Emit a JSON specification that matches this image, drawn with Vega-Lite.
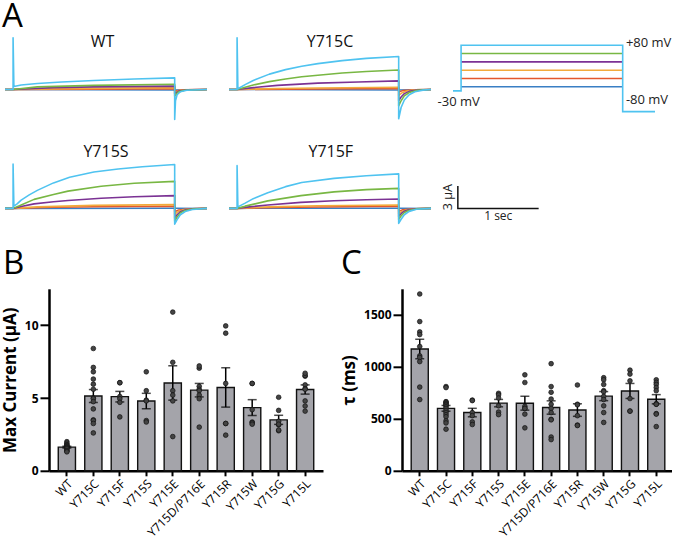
{
"$schema":"https://vega.github.io/schema/vega-lite/v6.json",
"background":"white",
"padding":{"left":1,"top":1,"right":0,"bottom":0},
"bounds":"flush",
"align":"each",
"columns":3,
"spacing":{"row":35.9,"column":22},
"config":{"font":"Open Sans","view":{"stroke":null},"axis":{"labelFont":"Open Sans","titleFont":"Open Sans"},"title":{"font":"Open Sans"},"text":{"font":"Open Sans"}},
"datasets":{
"tr":[
{"p":"WT","v":-20,"k":0,"t":-0.1,"i":0},{"p":"WT","v":-20,"k":1,"t":2,"i":-0.05},{"p":"WT","v":-20,"k":2,"t":2.4,"i":0},
{"p":"WT","v":0,"k":0,"t":-0.1,"i":0},{"p":"WT","v":0,"k":1,"t":0,"i":0},{"p":"WT","v":0,"k":2,"t":1,"i":0.05},{"p":"WT","v":0,"k":3,"t":2,"i":0.1},{"p":"WT","v":0,"k":4,"t":2,"i":-0.2},{"p":"WT","v":0,"k":5,"t":2.1,"i":-0.05},{"p":"WT","v":0,"k":6,"t":2.4,"i":0},
{"p":"WT","v":20,"k":0,"t":-0.1,"i":0},{"p":"WT","v":20,"k":1,"t":0,"i":0},{"p":"WT","v":20,"k":2,"t":1,"i":0.15},{"p":"WT","v":20,"k":3,"t":2,"i":0.25},{"p":"WT","v":20,"k":4,"t":2,"i":-0.4},{"p":"WT","v":20,"k":5,"t":2.05,"i":-0.15},{"p":"WT","v":20,"k":6,"t":2.15,"i":-0.05},{"p":"WT","v":20,"k":7,"t":2.4,"i":0},
{"p":"WT","v":40,"k":0,"t":-0.1,"i":0},{"p":"WT","v":40,"k":1,"t":0,"i":0},{"p":"WT","v":40,"k":2,"t":0.5,"i":0.25},{"p":"WT","v":40,"k":3,"t":1,"i":0.35},{"p":"WT","v":40,"k":4,"t":2,"i":0.45},{"p":"WT","v":40,"k":5,"t":2,"i":-0.6},{"p":"WT","v":40,"k":6,"t":2.05,"i":-0.2},{"p":"WT","v":40,"k":7,"t":2.15,"i":-0.05},{"p":"WT","v":40,"k":8,"t":2.4,"i":0},
{"p":"WT","v":60,"k":0,"t":-0.1,"i":0},{"p":"WT","v":60,"k":1,"t":0,"i":0},{"p":"WT","v":60,"k":2,"t":0.3,"i":0.35},{"p":"WT","v":60,"k":3,"t":1,"i":0.55},{"p":"WT","v":60,"k":4,"t":2,"i":0.7},{"p":"WT","v":60,"k":5,"t":2,"i":-0.9},{"p":"WT","v":60,"k":6,"t":2.04,"i":-0.35},{"p":"WT","v":60,"k":7,"t":2.12,"i":-0.1},{"p":"WT","v":60,"k":8,"t":2.4,"i":0},
{"p":"WT","v":80,"k":0,"t":-0.1,"i":0},{"p":"WT","v":80,"k":1,"t":0,"i":0},{"p":"WT","v":80,"k":2,"t":0,"i":6.9},{"p":"WT","v":80,"k":3,"t":0.01,"i":0.4},{"p":"WT","v":80,"k":4,"t":0.1,"i":0.6},{"p":"WT","v":80,"k":5,"t":0.3,"i":0.8},{"p":"WT","v":80,"k":6,"t":0.6,"i":1.0},{"p":"WT","v":80,"k":7,"t":1,"i":1.2},{"p":"WT","v":80,"k":8,"t":1.5,"i":1.4},{"p":"WT","v":80,"k":9,"t":2,"i":1.55},{"p":"WT","v":80,"k":10,"t":2,"i":-4.0},{"p":"WT","v":80,"k":11,"t":2.01,"i":-1.5},{"p":"WT","v":80,"k":12,"t":2.03,"i":-0.7},{"p":"WT","v":80,"k":13,"t":2.07,"i":-0.3},{"p":"WT","v":80,"k":14,"t":2.15,"i":-0.1},{"p":"WT","v":80,"k":15,"t":2.4,"i":0},
{"p":"C","v":-20,"k":0,"t":-0.1,"i":0},{"p":"C","v":-20,"k":1,"t":2,"i":-0.05},{"p":"C","v":-20,"k":2,"t":2.4,"i":0},
{"p":"C","v":0,"k":0,"t":-0.1,"i":0},{"p":"C","v":0,"k":1,"t":0,"i":0},{"p":"C","v":0,"k":2,"t":1,"i":0.08},{"p":"C","v":0,"k":3,"t":2,"i":0.12},{"p":"C","v":0,"k":4,"t":2,"i":-0.35},{"p":"C","v":0,"k":5,"t":2.05,"i":-0.15},{"p":"C","v":0,"k":6,"t":2.2,"i":-0.03},{"p":"C","v":0,"k":7,"t":2.4,"i":0},
{"p":"C","v":20,"k":0,"t":-0.1,"i":0},{"p":"C","v":20,"k":1,"t":0,"i":0},{"p":"C","v":20,"k":2,"t":0.5,"i":0.12},{"p":"C","v":20,"k":3,"t":1,"i":0.2},{"p":"C","v":20,"k":4,"t":2,"i":0.3},{"p":"C","v":20,"k":5,"t":2,"i":-0.8},{"p":"C","v":20,"k":6,"t":2.04,"i":-0.45},{"p":"C","v":20,"k":7,"t":2.1,"i":-0.2},{"p":"C","v":20,"k":8,"t":2.2,"i":-0.05},{"p":"C","v":20,"k":9,"t":2.4,"i":0},
{"p":"C","v":40,"k":0,"t":-0.1,"i":0},{"p":"C","v":40,"k":1,"t":0,"i":0},{"p":"C","v":40,"k":2,"t":0.2,"i":0.25},{"p":"C","v":40,"k":3,"t":0.5,"i":0.55},{"p":"C","v":40,"k":4,"t":1,"i":0.85},{"p":"C","v":40,"k":5,"t":1.5,"i":1.0},{"p":"C","v":40,"k":6,"t":2,"i":1.15},{"p":"C","v":40,"k":7,"t":2,"i":-1.5},{"p":"C","v":40,"k":8,"t":2.03,"i":-1.0},{"p":"C","v":40,"k":9,"t":2.07,"i":-0.55},{"p":"C","v":40,"k":10,"t":2.13,"i":-0.25},{"p":"C","v":40,"k":11,"t":2.22,"i":-0.08},{"p":"C","v":40,"k":12,"t":2.4,"i":0},
{"p":"C","v":60,"k":0,"t":-0.1,"i":0},{"p":"C","v":60,"k":1,"t":0,"i":0},{"p":"C","v":60,"k":2,"t":0.1,"i":0.3},{"p":"C","v":60,"k":3,"t":0.2,"i":0.6},{"p":"C","v":60,"k":4,"t":0.4,"i":1.05},{"p":"C","v":60,"k":5,"t":0.6,"i":1.4},{"p":"C","v":60,"k":6,"t":0.8,"i":1.7},{"p":"C","v":60,"k":7,"t":1,"i":1.9},{"p":"C","v":60,"k":8,"t":1.3,"i":2.2},{"p":"C","v":60,"k":9,"t":1.6,"i":2.4},{"p":"C","v":60,"k":10,"t":2,"i":2.6},{"p":"C","v":60,"k":11,"t":2,"i":-2.2},{"p":"C","v":60,"k":12,"t":2.03,"i":-1.5},{"p":"C","v":60,"k":13,"t":2.07,"i":-0.85},{"p":"C","v":60,"k":14,"t":2.13,"i":-0.4},{"p":"C","v":60,"k":15,"t":2.22,"i":-0.12},{"p":"C","v":60,"k":16,"t":2.4,"i":0},
{"p":"C","v":80,"k":0,"t":-0.1,"i":0},{"p":"C","v":80,"k":1,"t":0,"i":0},{"p":"C","v":80,"k":2,"t":0,"i":6.9},{"p":"C","v":80,"k":3,"t":0.01,"i":0.1},{"p":"C","v":80,"k":4,"t":0.1,"i":0.65},{"p":"C","v":80,"k":5,"t":0.2,"i":1.2},{"p":"C","v":80,"k":6,"t":0.4,"i":2.05},{"p":"C","v":80,"k":7,"t":0.6,"i":2.65},{"p":"C","v":80,"k":8,"t":0.8,"i":3.1},{"p":"C","v":80,"k":9,"t":1,"i":3.45},{"p":"C","v":80,"k":10,"t":1.3,"i":3.85},{"p":"C","v":80,"k":11,"t":1.6,"i":4.15},{"p":"C","v":80,"k":12,"t":2,"i":4.4},{"p":"C","v":80,"k":13,"t":2,"i":-3.9},{"p":"C","v":80,"k":14,"t":2.03,"i":-2.4},{"p":"C","v":80,"k":15,"t":2.07,"i":-1.4},{"p":"C","v":80,"k":16,"t":2.13,"i":-0.7},{"p":"C","v":80,"k":17,"t":2.2,"i":-0.3},{"p":"C","v":80,"k":18,"t":2.3,"i":-0.08},{"p":"C","v":80,"k":19,"t":2.4,"i":0},
{"p":"S","v":-20,"k":0,"t":-0.1,"i":0},{"p":"S","v":-20,"k":1,"t":2,"i":0.02},{"p":"S","v":-20,"k":2,"t":2.4,"i":0},
{"p":"S","v":0,"k":0,"t":-0.1,"i":0},{"p":"S","v":0,"k":1,"t":0,"i":0},{"p":"S","v":0,"k":2,"t":0.5,"i":0.15},{"p":"S","v":0,"k":3,"t":1,"i":0.22},{"p":"S","v":0,"k":4,"t":2,"i":0.3},{"p":"S","v":0,"k":5,"t":2,"i":-0.45},{"p":"S","v":0,"k":6,"t":2.05,"i":-0.2},{"p":"S","v":0,"k":7,"t":2.2,"i":-0.04},{"p":"S","v":0,"k":8,"t":2.4,"i":0},
{"p":"S","v":20,"k":0,"t":-0.1,"i":0},{"p":"S","v":20,"k":1,"t":0,"i":0},{"p":"S","v":20,"k":2,"t":0.3,"i":0.2},{"p":"S","v":20,"k":3,"t":1,"i":0.4},{"p":"S","v":20,"k":4,"t":2,"i":0.5},{"p":"S","v":20,"k":5,"t":2,"i":-0.8},{"p":"S","v":20,"k":6,"t":2.04,"i":-0.45},{"p":"S","v":20,"k":7,"t":2.1,"i":-0.2},{"p":"S","v":20,"k":8,"t":2.2,"i":-0.05},{"p":"S","v":20,"k":9,"t":2.4,"i":0},
{"p":"S","v":40,"k":0,"t":-0.1,"i":0},{"p":"S","v":40,"k":1,"t":0,"i":0},{"p":"S","v":40,"k":2,"t":0.1,"i":0.25},{"p":"S","v":40,"k":3,"t":0.26,"i":0.6},{"p":"S","v":40,"k":4,"t":0.5,"i":0.88},{"p":"S","v":40,"k":5,"t":0.68,"i":1.05},{"p":"S","v":40,"k":6,"t":1.09,"i":1.35},{"p":"S","v":40,"k":7,"t":1.5,"i":1.55},{"p":"S","v":40,"k":8,"t":2,"i":1.7},{"p":"S","v":40,"k":9,"t":2,"i":-1.3},{"p":"S","v":40,"k":10,"t":2.03,"i":-0.85},{"p":"S","v":40,"k":11,"t":2.07,"i":-0.45},{"p":"S","v":40,"k":12,"t":2.13,"i":-0.2},{"p":"S","v":40,"k":13,"t":2.22,"i":-0.05},{"p":"S","v":40,"k":14,"t":2.4,"i":0},
{"p":"S","v":60,"k":0,"t":-0.1,"i":0},{"p":"S","v":60,"k":1,"t":0,"i":0},{"p":"S","v":60,"k":2,"t":0.1,"i":0.45},{"p":"S","v":60,"k":3,"t":0.26,"i":1.2},{"p":"S","v":60,"k":4,"t":0.5,"i":1.85},{"p":"S","v":60,"k":5,"t":0.68,"i":2.3},{"p":"S","v":60,"k":6,"t":1.09,"i":2.95},{"p":"S","v":60,"k":7,"t":1.5,"i":3.35},{"p":"S","v":60,"k":8,"t":2,"i":3.6},{"p":"S","v":60,"k":9,"t":2,"i":-1.7},{"p":"S","v":60,"k":10,"t":2.03,"i":-1.15},{"p":"S","v":60,"k":11,"t":2.07,"i":-0.6},{"p":"S","v":60,"k":12,"t":2.13,"i":-0.28},{"p":"S","v":60,"k":13,"t":2.22,"i":-0.08},{"p":"S","v":60,"k":14,"t":2.4,"i":0},
{"p":"S","v":80,"k":0,"t":-0.1,"i":0},{"p":"S","v":80,"k":1,"t":0,"i":0},{"p":"S","v":80,"k":2,"t":0,"i":5.9},{"p":"S","v":80,"k":3,"t":0.01,"i":0.3},{"p":"S","v":80,"k":4,"t":0.05,"i":0.6},{"p":"S","v":80,"k":5,"t":0.1,"i":1.1},{"p":"S","v":80,"k":6,"t":0.2,"i":1.8},{"p":"S","v":80,"k":7,"t":0.3,"i":2.4},{"p":"S","v":80,"k":8,"t":0.5,"i":3.4},{"p":"S","v":80,"k":9,"t":0.7,"i":4.15},{"p":"S","v":80,"k":10,"t":1,"i":4.85},{"p":"S","v":80,"k":11,"t":1.3,"i":5.25},{"p":"S","v":80,"k":12,"t":1.6,"i":5.55},{"p":"S","v":80,"k":13,"t":2,"i":5.85},{"p":"S","v":80,"k":14,"t":2,"i":-2.1},{"p":"S","v":80,"k":15,"t":2.03,"i":-1.5},{"p":"S","v":80,"k":16,"t":2.07,"i":-0.85},{"p":"S","v":80,"k":17,"t":2.13,"i":-0.42},{"p":"S","v":80,"k":18,"t":2.22,"i":-0.14},{"p":"S","v":80,"k":19,"t":2.4,"i":0},
{"p":"F","v":-20,"k":0,"t":-0.1,"i":0},{"p":"F","v":-20,"k":1,"t":2,"i":0.02},{"p":"F","v":-20,"k":2,"t":2.4,"i":0},
{"p":"F","v":0,"k":0,"t":-0.1,"i":0},{"p":"F","v":0,"k":1,"t":0,"i":0},{"p":"F","v":0,"k":2,"t":0.5,"i":0.12},{"p":"F","v":0,"k":3,"t":1,"i":0.2},{"p":"F","v":0,"k":4,"t":2,"i":0.27},{"p":"F","v":0,"k":5,"t":2,"i":-0.4},{"p":"F","v":0,"k":6,"t":2.05,"i":-0.18},{"p":"F","v":0,"k":7,"t":2.2,"i":-0.04},{"p":"F","v":0,"k":8,"t":2.4,"i":0},
{"p":"F","v":20,"k":0,"t":-0.1,"i":0},{"p":"F","v":20,"k":1,"t":0,"i":0},{"p":"F","v":20,"k":2,"t":0.4,"i":0.2},{"p":"F","v":20,"k":3,"t":1,"i":0.35},{"p":"F","v":20,"k":4,"t":2,"i":0.45},{"p":"F","v":20,"k":5,"t":2,"i":-0.7},{"p":"F","v":20,"k":6,"t":2.04,"i":-0.4},{"p":"F","v":20,"k":7,"t":2.1,"i":-0.18},{"p":"F","v":20,"k":8,"t":2.2,"i":-0.05},{"p":"F","v":20,"k":9,"t":2.4,"i":0},
{"p":"F","v":40,"k":0,"t":-0.1,"i":0},{"p":"F","v":40,"k":1,"t":0,"i":0},{"p":"F","v":40,"k":2,"t":0.15,"i":0.2},{"p":"F","v":40,"k":3,"t":0.38,"i":0.45},{"p":"F","v":40,"k":4,"t":0.79,"i":0.8},{"p":"F","v":40,"k":5,"t":1.2,"i":1.03},{"p":"F","v":40,"k":6,"t":1.6,"i":1.15},{"p":"F","v":40,"k":7,"t":2,"i":1.25},{"p":"F","v":40,"k":8,"t":2,"i":-1.1},{"p":"F","v":40,"k":9,"t":2.03,"i":-0.7},{"p":"F","v":40,"k":10,"t":2.07,"i":-0.38},{"p":"F","v":40,"k":11,"t":2.13,"i":-0.16},{"p":"F","v":40,"k":12,"t":2.22,"i":-0.04},{"p":"F","v":40,"k":13,"t":2.4,"i":0},
{"p":"F","v":60,"k":0,"t":-0.1,"i":0},{"p":"F","v":60,"k":1,"t":0,"i":0},{"p":"F","v":60,"k":2,"t":0.1,"i":0.3},{"p":"F","v":60,"k":3,"t":0.38,"i":1.0},{"p":"F","v":60,"k":4,"t":0.79,"i":1.7},{"p":"F","v":60,"k":5,"t":1.2,"i":2.2},{"p":"F","v":60,"k":6,"t":1.6,"i":2.5},{"p":"F","v":60,"k":7,"t":2,"i":2.67},{"p":"F","v":60,"k":8,"t":2,"i":-1.5},{"p":"F","v":60,"k":9,"t":2.03,"i":-1.0},{"p":"F","v":60,"k":10,"t":2.07,"i":-0.55},{"p":"F","v":60,"k":11,"t":2.13,"i":-0.25},{"p":"F","v":60,"k":12,"t":2.22,"i":-0.07},{"p":"F","v":60,"k":13,"t":2.4,"i":0},
{"p":"F","v":80,"k":0,"t":-0.1,"i":0},{"p":"F","v":80,"k":1,"t":0,"i":0},{"p":"F","v":80,"k":2,"t":0,"i":5.7},{"p":"F","v":80,"k":3,"t":0.01,"i":0.2},{"p":"F","v":80,"k":4,"t":0.1,"i":0.7},{"p":"F","v":80,"k":5,"t":0.2,"i":1.3},{"p":"F","v":80,"k":6,"t":0.38,"i":2.1},{"p":"F","v":80,"k":7,"t":0.6,"i":2.9},{"p":"F","v":80,"k":8,"t":0.8,"i":3.45},{"p":"F","v":80,"k":9,"t":1.2,"i":4.0},{"p":"F","v":80,"k":10,"t":1.6,"i":4.35},{"p":"F","v":80,"k":11,"t":2,"i":4.6},{"p":"F","v":80,"k":12,"t":2,"i":-2.0},{"p":"F","v":80,"k":13,"t":2.03,"i":-1.45},{"p":"F","v":80,"k":14,"t":2.07,"i":-0.85},{"p":"F","v":80,"k":15,"t":2.13,"i":-0.4},{"p":"F","v":80,"k":16,"t":2.22,"i":-0.12},{"p":"F","v":80,"k":17,"t":2.4,"i":0}
],
"pr":[
{"v":-20,"k":0,"t":0,"mv":-20},{"v":-20,"k":1,"t":2,"mv":-20},
{"v":0,"k":0,"t":0,"mv":0},{"v":0,"k":1,"t":2,"mv":0},
{"v":20,"k":0,"t":0,"mv":20},{"v":20,"k":1,"t":2,"mv":20},
{"v":40,"k":0,"t":0,"mv":40},{"v":40,"k":1,"t":2,"mv":40},
{"v":60,"k":0,"t":0,"mv":60},{"v":60,"k":1,"t":2,"mv":60},
{"v":80,"k":0,"t":-0.1,"mv":-30},{"v":80,"k":1,"t":0,"mv":-30},{"v":80,"k":2,"t":0,"mv":80},{"v":80,"k":3,"t":2,"mv":80},{"v":80,"k":4,"t":2,"mv":-80},{"v":80,"k":5,"t":2.4,"mv":-80}
],
"sb":[{"k":0,"t":0,"i":3},{"k":1,"t":0,"i":0},{"k":2,"t":1,"i":0}],
"bd":[
{"g":"WT","v":2.0},{"g":"WT","v":1.9},{"g":"WT","v":1.8},{"g":"WT","v":1.75},{"g":"WT","v":1.7},{"g":"WT","v":1.65},{"g":"WT","v":1.6},{"g":"WT","v":1.55},{"g":"WT","v":1.5},{"g":"WT","v":1.4},{"g":"WT","v":1.35},{"g":"WT","v":1.3},
{"g":"Y715C","v":8.4},{"g":"Y715C","v":7.1},{"g":"Y715C","v":6.8},{"g":"Y715C","v":6.3},{"g":"Y715C","v":5.95},{"g":"Y715C","v":5.6},{"g":"Y715C","v":5.0},{"g":"Y715C","v":4.95},{"g":"Y715C","v":4.75},{"g":"Y715C","v":4.25},{"g":"Y715C","v":3.5},{"g":"Y715C","v":3.45},{"g":"Y715C","v":3.25},{"g":"Y715C","v":2.6},
{"g":"Y715F","v":6.05},{"g":"Y715F","v":6.05},{"g":"Y715F","v":5.1},{"g":"Y715F","v":4.95},{"g":"Y715F","v":4.7},{"g":"Y715F","v":3.7},
{"g":"Y715S","v":6.8},{"g":"Y715S","v":5.5},{"g":"Y715S","v":4.85},{"g":"Y715S","v":4.8},{"g":"Y715S","v":3.45},{"g":"Y715S","v":3.35},
{"g":"Y715E","v":10.9},{"g":"Y715E","v":7.45},{"g":"Y715E","v":5.5},{"g":"Y715E","v":5.2},{"g":"Y715E","v":4.8},{"g":"Y715E","v":2.35},
{"g":"Y715D/P716E","v":7.05},{"g":"Y715D/P716E","v":7.2},{"g":"Y715D/P716E","v":5.8},{"g":"Y715D/P716E","v":5.6},{"g":"Y715D/P716E","v":5.5},{"g":"Y715D/P716E","v":5.2},{"g":"Y715D/P716E","v":4.95},{"g":"Y715D/P716E","v":3.0},
{"g":"Y715R","v":9.95},{"g":"Y715R","v":9.45},{"g":"Y715R","v":6.0},{"g":"Y715R","v":3.25},{"g":"Y715R","v":3.25},{"g":"Y715R","v":2.45},
{"g":"Y715W","v":6.0},{"g":"Y715W","v":6.0},{"g":"Y715W","v":4.2},{"g":"Y715W","v":3.35},{"g":"Y715W","v":3.3},{"g":"Y715W","v":3.2},
{"g":"Y715G","v":5.05},{"g":"Y715G","v":4.15},{"g":"Y715G","v":3.4},{"g":"Y715G","v":3.15},{"g":"Y715G","v":3.2},{"g":"Y715G","v":2.75},{"g":"Y715G","v":2.8},
{"g":"Y715L","v":6.5},{"g":"Y715L","v":6.55},{"g":"Y715L","v":6.7},{"g":"Y715L","v":5.9},{"g":"Y715L","v":5.65},{"g":"Y715L","v":5.6},{"g":"Y715L","v":4.8},{"g":"Y715L","v":4.45},{"g":"Y715L","v":4.1}
],
"cd":[
{"g":"WT","v":1700},{"g":"WT","v":1435},{"g":"WT","v":1335},{"g":"WT","v":1310},{"g":"WT","v":1195},{"g":"WT","v":1105},{"g":"WT","v":1090},{"g":"WT","v":1050},{"g":"WT","v":805},{"g":"WT","v":685},
{"g":"Y715C","v":810},{"g":"Y715C","v":800},{"g":"Y715C","v":665},{"g":"Y715C","v":660},{"g":"Y715C","v":650},{"g":"Y715C","v":640},{"g":"Y715C","v":630},{"g":"Y715C","v":615},{"g":"Y715C","v":600},{"g":"Y715C","v":580},{"g":"Y715C","v":560},{"g":"Y715C","v":540},{"g":"Y715C","v":520},{"g":"Y715C","v":480},{"g":"Y715C","v":460},{"g":"Y715C","v":400},
{"g":"Y715F","v":680},{"g":"Y715F","v":675},{"g":"Y715F","v":560},{"g":"Y715F","v":530},{"g":"Y715F","v":470},{"g":"Y715F","v":445},
{"g":"Y715S","v":745},{"g":"Y715S","v":730},{"g":"Y715S","v":700},{"g":"Y715S","v":625},{"g":"Y715S","v":565},{"g":"Y715S","v":540},
{"g":"Y715E","v":923},{"g":"Y715E","v":849},{"g":"Y715E","v":620},{"g":"Y715E","v":600},{"g":"Y715E","v":600},{"g":"Y715E","v":545},{"g":"Y715E","v":413},
{"g":"Y715D/P716E","v":1030},{"g":"Y715D/P716E","v":810},{"g":"Y715D/P716E","v":755},{"g":"Y715D/P716E","v":690},{"g":"Y715D/P716E","v":640},{"g":"Y715D/P716E","v":600},{"g":"Y715D/P716E","v":560},{"g":"Y715D/P716E","v":495},{"g":"Y715D/P716E","v":490},{"g":"Y715D/P716E","v":325},{"g":"Y715D/P716E","v":300},
{"g":"Y715R","v":825},{"g":"Y715R","v":640},{"g":"Y715R","v":635},{"g":"Y715R","v":530},{"g":"Y715R","v":440},{"g":"Y715R","v":435},
{"g":"Y715W","v":895},{"g":"Y715W","v":875},{"g":"Y715W","v":830},{"g":"Y715W","v":770},{"g":"Y715W","v":760},{"g":"Y715W","v":715},{"g":"Y715W","v":685},{"g":"Y715W","v":625},{"g":"Y715W","v":560},{"g":"Y715W","v":465},
{"g":"Y715G","v":968},{"g":"Y715G","v":930},{"g":"Y715G","v":865},{"g":"Y715G","v":695},{"g":"Y715G","v":574},{"g":"Y715G","v":574},
{"g":"Y715L","v":875},{"g":"Y715L","v":850},{"g":"Y715L","v":830},{"g":"Y715L","v":800},{"g":"Y715L","v":770},{"g":"Y715L","v":645},{"g":"Y715L","v":640},{"g":"Y715L","v":640},{"g":"Y715L","v":550},{"g":"Y715L","v":545},{"g":"Y715L","v":425}
]
},
"concat":[
{"width":202,"height":82.5,"layer":[
 {"data":{"name":"tr"},"transform":[{"filter":"datum.p === 'WT'"}],
  "mark":{"type":"line","strokeJoin":"round"},
  "encoding":{
   "x":{"field":"t","type":"quantitative","scale":{"domain":[-0.1,2.4],"nice":false,"zero":false},"axis":null},
   "y":{"field":"i","type":"quantitative","scale":{"domain":[-4,7],"nice":false,"zero":false},"axis":null},
   "order":{"field":"k"},
   "color":{"field":"v","type":"ordinal","scale":{"domain":[-20,0,20,40,60,80],"range":["#3a7fc4","#e4572e","#f2aa3c","#7b3294","#78b743","#4fc3f0"]},"legend":null},
   "strokeWidth":{"field":"v","type":"ordinal","scale":{"domain":[-20,0,20,40,60,80],"range":[1.5,1.6,1.8,1.8,1.8,2.6]},"legend":null}}},
 {"data":{"values":[{"label":"WT"}]},"mark":{"type":"text","align":"center","baseline":"alphabetic","fontSize":16,"color":"#111"},
  "encoding":{"x":{"datum":1.107,"type":"quantitative"},"y":{"datum":5.64,"type":"quantitative"},"text":{"field":"label"}}},
 {"data":{"values":[{"label":"A"}]},"mark":{"type":"text","align":"left","baseline":"alphabetic","fontSize":33,"color":"#000"},
  "encoding":{"x":{"datum":-0.137,"type":"quantitative"},"y":{"datum":8.3,"type":"quantitative"},"text":{"field":"label"}}}
]},
{"width":202,"height":82.5,"layer":[
 {"data":{"name":"tr"},"transform":[{"filter":"datum.p === 'C'"}],
  "mark":{"type":"line","strokeJoin":"round"},
  "encoding":{
   "x":{"field":"t","type":"quantitative","scale":{"domain":[-0.1,2.4],"nice":false,"zero":false},"axis":null},
   "y":{"field":"i","type":"quantitative","scale":{"domain":[-4,7],"nice":false,"zero":false},"axis":null},
   "order":{"field":"k"},
   "color":{"field":"v","type":"ordinal","scale":{"domain":[-20,0,20,40,60,80],"range":["#3a7fc4","#e4572e","#f2aa3c","#7b3294","#78b743","#4fc3f0"]},"legend":null},
   "strokeWidth":{"field":"v","type":"ordinal","scale":{"domain":[-20,0,20,40,60,80],"range":[1.5,1.6,1.8,1.8,1.8,2.6]},"legend":null}}},
 {"data":{"values":[{"label":"Y715C"}]},"mark":{"type":"text","align":"center","baseline":"alphabetic","fontSize":16,"color":"#111"},
  "encoding":{"x":{"datum":1.15,"type":"quantitative"},"y":{"datum":5.64,"type":"quantitative"},"text":{"field":"label"}}}
]},
{"width":202,"height":82.5,"layer":[
 {"data":{"name":"pr"},
  "mark":{"type":"line","strokeJoin":"miter"},
  "encoding":{
   "x":{"field":"t","type":"quantitative","scale":{"domain":[-0.1,2.4],"nice":false,"zero":false},"axis":null},
   "y":{"field":"mv","type":"quantitative","scale":{"domain":[-99,100],"nice":false,"zero":false},"axis":null},
   "order":{"field":"k"},
   "color":{"field":"v","type":"ordinal","scale":{"domain":[-20,0,20,40,60,80],"range":["#3a7fc4","#e4572e","#f2aa3c","#7b3294","#78b743","#4fc3f0"]},"legend":null},
   "strokeWidth":{"field":"v","type":"ordinal","scale":{"domain":[-20,0,20,40,60,80],"range":[1.4,1.5,1.6,1.6,1.6,2.6]},"legend":null}}},
 {"data":{"values":[{"label":"+80 mV"}]},"mark":{"type":"text","align":"left","baseline":"middle","dy":-2,"fontSize":13,"color":"#222"},
  "encoding":{"x":{"datum":2.04,"type":"quantitative"},"y":{"datum":80,"type":"quantitative"},"text":{"field":"label"}}},
 {"data":{"values":[{"label":"-80 mV"}]},"mark":{"type":"text","align":"left","baseline":"middle","dy":-12,"fontSize":13,"color":"#222"},
  "encoding":{"x":{"datum":2.04,"type":"quantitative"},"y":{"datum":-80,"type":"quantitative"},"text":{"field":"label"}}},
 {"data":{"values":[{"label":"-30 mV"}]},"mark":{"type":"text","align":"center","baseline":"middle","dy":11,"fontSize":13,"color":"#222"},
  "encoding":{"x":{"datum":-0.03,"type":"quantitative"},"y":{"datum":-30,"type":"quantitative"},"text":{"field":"label"}}}
]},
{"width":202,"height":96.2,"layer":[
 {"data":{"name":"tr"},"transform":[{"filter":"datum.p === 'S'"}],
  "mark":{"type":"line","strokeJoin":"round"},
  "encoding":{
   "x":{"field":"t","type":"quantitative","scale":{"domain":[-0.1,2.4],"nice":false,"zero":false},"axis":null},
   "y":{"field":"i","type":"quantitative","scale":{"domain":[-5.83,7],"nice":false,"zero":false},"axis":null},
   "order":{"field":"k"},
   "color":{"field":"v","type":"ordinal","scale":{"domain":[-20,0,20,40,60,80],"range":["#3a7fc4","#e4572e","#f2aa3c","#7b3294","#78b743","#4fc3f0"]},"legend":null},
   "strokeWidth":{"field":"v","type":"ordinal","scale":{"domain":[-20,0,20,40,60,80],"range":[1.5,1.6,1.8,1.8,1.8,2.6]},"legend":null}}},
 {"data":{"values":[{"label":"Y715S"}]},"mark":{"type":"text","align":"center","baseline":"alphabetic","fontSize":16,"color":"#111"},
  "encoding":{"x":{"datum":1.15,"type":"quantitative"},"y":{"datum":6.9,"type":"quantitative"},"text":{"field":"label"}}}
]},
{"width":202,"height":96.2,"layer":[
 {"data":{"name":"tr"},"transform":[{"filter":"datum.p === 'F'"}],
  "mark":{"type":"line","strokeJoin":"round"},
  "encoding":{
   "x":{"field":"t","type":"quantitative","scale":{"domain":[-0.1,2.4],"nice":false,"zero":false},"axis":null},
   "y":{"field":"i","type":"quantitative","scale":{"domain":[-5.83,7],"nice":false,"zero":false},"axis":null},
   "order":{"field":"k"},
   "color":{"field":"v","type":"ordinal","scale":{"domain":[-20,0,20,40,60,80],"range":["#3a7fc4","#e4572e","#f2aa3c","#7b3294","#78b743","#4fc3f0"]},"legend":null},
   "strokeWidth":{"field":"v","type":"ordinal","scale":{"domain":[-20,0,20,40,60,80],"range":[1.5,1.6,1.8,1.8,1.8,2.6]},"legend":null}}},
 {"data":{"values":[{"label":"Y715F"}]},"mark":{"type":"text","align":"center","baseline":"alphabetic","fontSize":16,"color":"#111"},
  "encoding":{"x":{"datum":1.16,"type":"quantitative"},"y":{"datum":6.9,"type":"quantitative"},"text":{"field":"label"}}}
]},
{"width":202,"height":96.2,"layer":[
 {"data":{"name":"sb"},
  "mark":{"type":"line","color":"#111","strokeWidth":1.5,"strokeJoin":"miter"},
  "encoding":{
   "x":{"field":"t","type":"quantitative","scale":{"domain":[-0.06,2.44],"nice":false,"zero":false},"axis":null},
   "y":{"field":"i","type":"quantitative","scale":{"domain":[-5.83,7],"nice":false,"zero":false},"axis":null},
   "order":{"field":"k"}}},
 {"data":{"values":[{"label":"3 µA"}]},"mark":{"type":"text","angle":270,"align":"center","baseline":"bottom","dy":-3,"fontSize":12.5,"color":"#222"},
  "encoding":{"x":{"datum":0,"type":"quantitative"},"y":{"datum":1.5,"type":"quantitative"},"text":{"field":"label"}}},
 {"data":{"values":[{"label":"1 sec"}]},"mark":{"type":"text","align":"center","baseline":"top","dy":3,"fontSize":12,"color":"#222"},
  "encoding":{"x":{"datum":0.5,"type":"quantitative"},"y":{"datum":0,"type":"quantitative"},"text":{"field":"label"}}}
]},
{"width":202,"height":182,
 "title":{"text":"B","anchor":"start","frame":"group","dx":-2,"offset":-18.5,"baseline":"alphabetic","fontSize":33,"fontWeight":"normal","color":"#000"},
 "data":{"name":"bd"},
 "encoding":{"x":{"field":"g","type":"nominal","sort":["WT","Y715C","Y715F","Y715S","Y715E","Y715D/P716E","Y715R","Y715W","Y715G","Y715L"],"scale":{"range":[44,318],"paddingInner":0.35,"paddingOuter":0.35},
   "axis":{"title":null,"labelAngle":-45,"labelFontSize":12,"labelColor":"#000","labelPadding":2,"domainWidth":2.5,"domainColor":"#000","tickColor":"#000","tickWidth":2,"tickSize":5}}},
 "layer":[
  {"mark":{"type":"bar","fill":"#a4a4aa","stroke":"#111","strokeWidth":1.4},
   "encoding":{"y":{"aggregate":"mean","field":"v","type":"quantitative","title":"Max Current (µA)","scale":{"domain":[0,12.5],"nice":false},
    "axis":{"offset":-44,"values":[0,2.5,5,7.5,10,12.5],"labelExpr":"datum.value % 5 === 0 ? datum.label : ''","tickSize":{"condition":{"test":"datum.value % 5 === 0","value":9},"value":5},"domainWidth":2.5,"domainColor":"#000","tickColor":"#000","tickWidth":2,"labelFontWeight":"bold","labelFontSize":12,"labelColor":"#000","labelPadding":2,"titleFontSize":17,"titleFontWeight":"bold","titleColor":"#000","titlePadding":5,"grid":false}}}},
  {"mark":{"type":"errorbar","extent":"stderr","color":"#000","ticks":{"size":9,"thickness":1.5},"rule":{"strokeWidth":1.5}},
   "encoding":{"y":{"field":"v","type":"quantitative","title":"Max Current (µA)"}}},
  {"mark":{"type":"point","shape":"circle","filled":true,"size":22,"color":"#444","stroke":"#111","strokeWidth":0.7,"opacity":1},
   "encoding":{"y":{"field":"v","type":"quantitative","title":"Max Current (µA)"}}}
 ]},
{"width":202,"height":182,
 "title":{"text":"C","anchor":"start","frame":"group","dx":112,"offset":-18.5,"baseline":"alphabetic","fontSize":33,"fontWeight":"normal","color":"#000"},
 "data":{"name":"cd"},
 "encoding":{"x":{"field":"g","type":"nominal","sort":["WT","Y715C","Y715F","Y715S","Y715E","Y715D/P716E","Y715R","Y715W","Y715G","Y715L"],"scale":{"range":[173,445],"paddingInner":0.35,"paddingOuter":0.35},
   "axis":{"title":null,"labelAngle":-45,"labelFontSize":12,"labelColor":"#000","labelPadding":2,"domainWidth":2.5,"domainColor":"#000","tickColor":"#000","tickWidth":2,"tickSize":5}}},
 "layer":[
  {"mark":{"type":"bar","fill":"#a4a4aa","stroke":"#111","strokeWidth":1.4},
   "encoding":{"y":{"aggregate":"mean","field":"v","type":"quantitative","title":"τ (ms)","scale":{"domain":[0,1750],"nice":false},
    "axis":{"offset":-173,"values":[0,250,500,750,1000,1250,1500,1750],"labelExpr":"datum.value % 500 === 0 ? datum.label : ''","format":"d","tickSize":{"condition":{"test":"datum.value % 500 === 0","value":9},"value":5},"domainWidth":2.5,"domainColor":"#000","tickColor":"#000","tickWidth":2,"labelFontWeight":"bold","labelFontSize":12,"labelColor":"#000","labelPadding":2,"titleFontSize":17,"titleFontWeight":"bold","titleColor":"#000","titlePadding":5,"grid":false}}}},
  {"mark":{"type":"errorbar","extent":"stderr","color":"#000","ticks":{"size":9,"thickness":1.5},"rule":{"strokeWidth":1.5}},
   "encoding":{"y":{"field":"v","type":"quantitative","title":"τ (ms)"}}},
  {"mark":{"type":"point","shape":"circle","filled":true,"size":22,"color":"#444","stroke":"#111","strokeWidth":0.7,"opacity":1},
   "encoding":{"y":{"field":"v","type":"quantitative","title":"τ (ms)"}}}
 ]}
]
}
